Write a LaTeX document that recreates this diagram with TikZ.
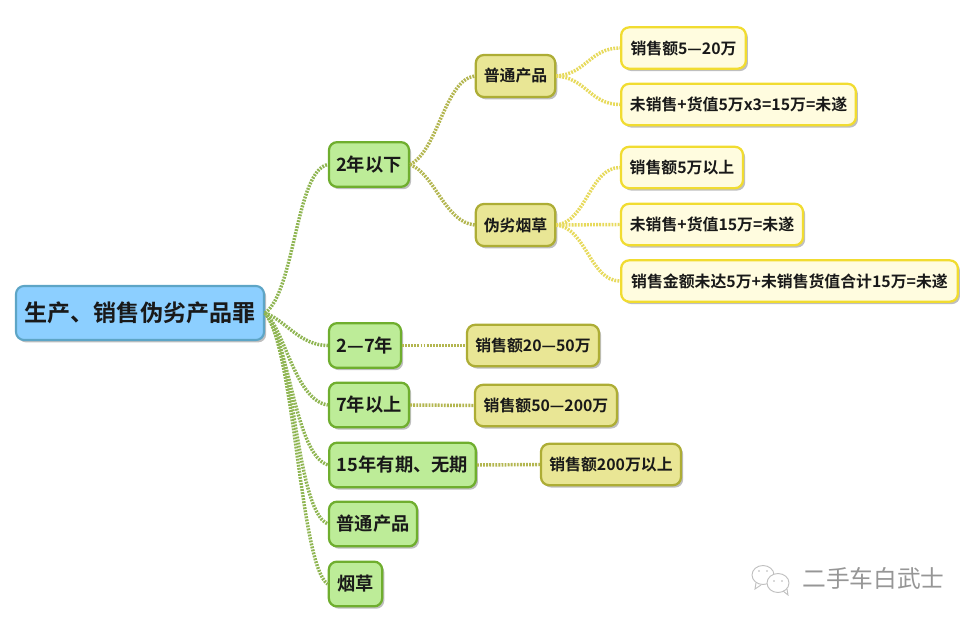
\documentclass[tikz,border=0pt]{standalone}
\usepackage{fontspec}
\setmainfont{Noto Sans CJK SC}[BoldFont={Noto Sans CJK SC Bold}]
\usetikzlibrary{shadows}
\definecolor{rootfill}{HTML}{8CCFFF}
\definecolor{rootline}{HTML}{5DA5C6}
\definecolor{greenfill}{HTML}{BDEC98}
\definecolor{greenline}{HTML}{6FAE2E}
\definecolor{olivefill}{HTML}{E9E695}
\definecolor{oliveline}{HTML}{ADAD35}
\definecolor{leaffill}{HTML}{FFFCDF}
\definecolor{leafline}{HTML}{F1DC30}
\definecolor{greenlink}{HTML}{8FB552}
\definecolor{olivelink}{HTML}{B3B650}
\definecolor{leaflink}{HTML}{E7DA5C}
\definecolor{markgray}{HTML}{969696}
\tikzset{
  boxbase/.style={rounded corners=6pt,inner sep=0pt,font=\bfseries,text=black!90,
    drop shadow={shadow xshift=1.6pt,shadow yshift=-1.8pt,opacity=.25,fill=black}},
  rootbox/.style={boxbase,fill=rootfill,draw=rootline,line width=1.6pt,font=\bfseries\fontsize{17.3}{20}\selectfont},
  greenbox/.style={boxbase,fill=greenfill,draw=greenline,line width=1.7pt,font=\bfseries\fontsize{13.7}{16}\selectfont},
  olivebox/.style={boxbase,fill=olivefill,draw=oliveline,line width=1.7pt,font=\bfseries\fontsize{11.9}{14}\selectfont},
  leafbox/.style={boxbase,fill=leaffill,draw=leafline,line width=1.7pt,font=\bfseries\fontsize{11.9}{14}\selectfont},
  linkbase/.style={line width=2.6pt,dash pattern=on 1.4pt off .9pt},
  greenwire/.style={linkbase,draw=greenlink},
  olivewire/.style={linkbase,draw=olivelink},
  leafwire/.style={linkbase,draw=leaflink},
  markline/.style={draw=markgray!60,line width=.7pt},
}
\begin{document}
\begin{tikzpicture}[x=0.75pt,y=-0.75pt]
\useasboundingbox (0,0) rectangle (973,620);
\node[rootbox,minimum width=186pt,minimum height=40.5pt] (root) at (140,313) {生产、销售伪劣产品罪};
\node[greenbox,minimum width=60pt,minimum height=33.5pt] (g1) at (369,164.5) {2年以下};
\node[greenbox,minimum width=54pt,minimum height=33.5pt] (g2) at (365,345.5) {2—7年};
\node[greenbox,minimum width=60pt,minimum height=33.5pt] (g3) at (369,405) {7年以上};
\node[greenbox,minimum width=110pt,minimum height=33.5pt] (g4) at (402.5,465) {15年有期、无期};
\node[greenbox,minimum width=66pt,minimum height=33.5pt] (g5) at (373,524) {普通产品};
\node[greenbox,minimum width=40pt,minimum height=33.5pt] (g6) at (355.5,584) {烟草};
\node[olivebox,minimum width=59.5pt,minimum height=31.5pt] (o1) at (515.5,76) {普通产品};
\node[olivebox,minimum width=59.5pt,minimum height=31.5pt] (o2) at (515.5,225) {伪劣烟草};
\node[olivebox,minimum width=99pt,minimum height=31pt] (o3) at (533,345.5) {销售额20—50万};
\node[olivebox,minimum width=106.5pt,minimum height=31pt] (o4) at (546,405.5) {销售额50—200万};
\node[olivebox,minimum width=105pt,minimum height=31pt] (o5) at (611,464.5) {销售额200万以上};
\node[leafbox,minimum width=93.5pt,minimum height=31pt] (l1) at (683.5,48) {销售额5—20万};
\node[leafbox,minimum width=176pt,minimum height=31pt] (l2) at (738.5,104.5) {未销售+货值5万x3=15万=未遂};
\node[leafbox,minimum width=91.5pt,minimum height=31pt] (l3) at (682,167.5) {销售额5万以上};
\node[leafbox,minimum width=136.5pt,minimum height=31pt] (l4) at (712,224.5) {未销售+货值15万=未遂};
\node[leafbox,minimum width=252.5pt,minimum height=31pt] (l5) at (789.5,281) {销售金额未达5万+未销售货值合计15万=未遂};

\draw[greenwire] (root.east) .. controls +(30,-22) and +(-32,6) .. (g1.west);
\draw[greenwire] (root.east) .. controls +(20,7) and +(-28,0) .. (g2.west);
\draw[greenwire] (root.east) .. controls +(20,17) and +(-33,-5) .. (g3.west);
\draw[greenwire] (root.east) .. controls +(25,32) and +(-33,-10) .. (g4.west);
\draw[greenwire] (root.east) .. controls +(30,32) and +(-33,-14) .. (g5.west);
\draw[greenwire] (root.east) .. controls +(30,37) and +(-28,-19) .. (g6.west);
\draw[olivewire] (g1.east) .. controls +(28,-14) and +(-30,4) .. (o1.west);
\draw[olivewire] (g1.east) .. controls +(25,10) and +(-30,-3) .. (o2.west);
\draw[olivewire] (g2.east) -- (o3.west);
\draw[olivewire] (g3.east) -- (o4.west);
\draw[olivewire] (g4.east) -- (o5.west);
\draw[leafwire] (o1.east) .. controls +(30,-2) and +(-30,0) .. (l1.west);
\draw[leafwire] (o1.east) .. controls +(30,2) and +(-30,0) .. (l2.west);
\draw[leafwire] (o2.east) .. controls +(30,-3) and +(-30,0) .. (l3.west);
\draw[leafwire] (o2.east) -- (l4.west);
\draw[leafwire] (o2.east) .. controls +(30,3) and +(-30,0) .. (l5.west);

\node[text=markgray,inner sep=0pt,font=\fontsize{17.8}{20}\selectfont] (mark) at (873.5,578) {二手车白武士};
\draw[markline] (763,575) ellipse (11 and 9.5);
\draw[markline,fill=white] (778,583) ellipse (11 and 9.5);
\fill[markgray!70] (759,571) circle (.9) (767,571) circle (.9) (774,581) circle (.9) (782,581) circle (.9);
\draw[markline] (756,583) -- (755,589) -- (761,585);
\draw[markline] (783,591) -- (788,595) -- (787,589);
\end{tikzpicture}
\end{document}
